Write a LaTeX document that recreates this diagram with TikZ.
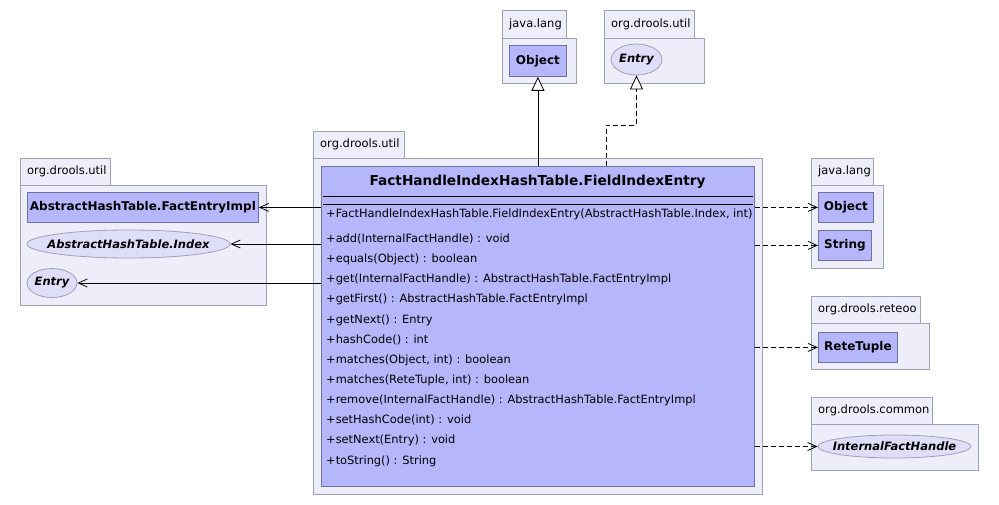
\documentclass[tikz,border=0pt]{standalone}
\usepackage{fontspec}
\setmainfont{DejaVu Sans}
\usetikzlibrary{arrows.meta,shapes.geometric}
\definecolor{pkgfill}{RGB}{238,238,250}
\definecolor{pkgline}{RGB}{160,160,184}
\definecolor{clsfill}{RGB}{182,182,252}
\definecolor{clsline}{RGB}{112,112,160}
\definecolor{ifcfill}{RGB}{222,222,248}
\tikzset{
  pkgpart/.style={draw=pkgline, fill=pkgfill, line width=0.8pt, anchor=north west, inner sep=0pt},
  tabtext/.style={anchor=west, inner sep=0pt, font=\fontsize{11.5}{13}\selectfont},
  clsbox/.style={draw=clsline, fill=clsfill, line width=0.8pt, anchor=north west, inner sep=0pt},
  clsname/.style={inner sep=0pt, font=\fontsize{12}{14}\selectfont\bfseries},
  ifcell/.style={ellipse, draw=pkgline, fill=ifcfill, line width=0.8pt, inner sep=0pt},
  ifcname/.style={inner sep=0pt, font=\fontsize{11.5}{14}\selectfont\bfseries\itshape},
  mtext/.style={anchor=west, inner sep=0pt, font=\fontsize{11.4}{13}\selectfont},
  dep/.style={dashed, dash pattern=on 5pt off 3pt, line width=0.8pt, -{Straight Barb[length=9pt,width=8pt]}},
  assoc/.style={line width=0.8pt, -{Straight Barb[length=9pt,width=8pt]}},
  gen/.style={line width=0.8pt, -{Triangle[open,length=14pt,width=13pt,fill=white]}},
  real/.style={line width=0.8pt, dash pattern=on 5pt off 3pt, -{Triangle[open,length=14pt,width=13pt,fill=white]}}
}
\begin{document}
\begin{tikzpicture}[x=1pt,y=-1pt]
\useasboundingbox[fill=white] (0,0) rectangle (999,505);
% ---------- main package
\node[pkgpart, minimum width=91, minimum height=27] (mtab) at (313,131) {};
\node[tabtext] (mtabt) at (320,144.5) {org.drools.util};
\node[pkgpart, minimum width=449, minimum height=336] (mpkg) at (313,158) {};
\node[clsbox, minimum width=433, minimum height=320] (cls) at (321,166) {};
\node[font=\fontsize{13.7}{16}\selectfont\bfseries, inner sep=0pt] (title) at (537.5,182) {FactHandleIndexHashTable.FieldIndexEntry};
\coordinate (sepA) at (323,196);
\coordinate (sepB) at (323,204);
\draw[line width=0.8pt] (sepA) -- ([xshift=-2pt]sepA -| cls.east);
\draw[line width=0.8pt] (sepB) -- ([xshift=-2pt]sepB -| cls.east);
\node[mtext] (m0) at (326,214) {+FactHandleIndexHashTable.FieldIndexEntry(AbstractHashTable.Index, int)};
\node[mtext] (m1) at (326,239) {+add(InternalFactHandle) : void};
\node[mtext] (m2) at (326,259) {+equals(Object) : boolean};
\node[mtext] (m3) at (326,279) {+get(InternalFactHandle) : AbstractHashTable.FactEntryImpl};
\node[mtext] (m4) at (326,299) {+getFirst() : AbstractHashTable.FactEntryImpl};
\node[mtext] (m5) at (326,320) {+getNext() : Entry};
\node[mtext] (m6) at (326,340) {+hashCode() : int};
\node[mtext] (m7) at (326,360) {+matches(Object, int) : boolean};
\node[mtext] (m8) at (326,380) {+matches(ReteTuple, int) : boolean};
\node[mtext] (m9) at (326,400) {+remove(InternalFactHandle) : AbstractHashTable.FactEntryImpl};
\node[mtext] (m10) at (326,420) {+setHashCode(int) : void};
\node[mtext] (m11) at (326,440) {+setNext(Entry) : void};
\node[mtext] (m12) at (326,461) {+toString() : String};
% ---------- left package org.drools.util
\node[pkgpart, minimum width=90, minimum height=27] (ltab) at (20,158) {};
\node[tabtext] (ltabt) at (27,171.5) {org.drools.util};
\node[pkgpart, minimum width=246, minimum height=120] (lpkg) at (20,185) {};
\node[clsbox, minimum width=231, minimum height=30] (fei) at (27,192) {};
\node[clsname] (feit) at (fei.center) {AbstractHashTable.FactEntryImpl};
\node[ifcell, minimum width=203, minimum height=28] (idx) at (128.5,244) {};
\node[ifcname] (idxt) at (idx.center) {AbstractHashTable.Index};
\node[ifcell, minimum width=50, minimum height=29] (lent) at (52,283) {};
\node[ifcname] (lentt) at (lent.center) {Entry};
% ---------- top java.lang
\node[pkgpart, minimum width=64, minimum height=28] (ttab1) at (502,10) {};
\node[tabtext] (ttab1t) at (509,24) {java.lang};
\node[pkgpart, minimum width=74, minimum height=45] (tpkg1) at (502,38) {};
\node[clsbox, minimum width=57, minimum height=31] (tobj) at (509,45) {};
\node[clsname] (tobjt) at (tobj.center) {Object};
% ---------- top org.drools.util
\node[pkgpart, minimum width=90, minimum height=28] (ttab2) at (604,10) {};
\node[tabtext] (ttab2t) at (611,24) {org.drools.util};
\node[pkgpart, minimum width=100, minimum height=45] (tpkg2) at (604,38) {};
\node[ifcell, minimum width=51, minimum height=31] (tent) at (636.5,59.5) {};
\node[ifcname] (tentt) at (tent.center) {Entry};
% ---------- right java.lang
\node[pkgpart, minimum width=62, minimum height=27] (rtab1) at (811,158) {};
\node[tabtext] (rtab1t) at (818,171.5) {java.lang};
\node[pkgpart, minimum width=72, minimum height=83] (rpkg1) at (811,185) {};
\node[clsbox, minimum width=55, minimum height=30] (robj) at (818,192) {};
\node[clsname] (robjt) at (robj.center) {Object};
\node[clsbox, minimum width=53, minimum height=30] (rstr) at (818,230) {};
\node[clsname] (rstrt) at (rstr.center) {String};
% ---------- org.drools.reteoo
\node[pkgpart, minimum width=109, minimum height=27] (rtab2) at (811,296) {};
\node[tabtext] (rtab2t) at (818,309.5) {org.drools.reteoo};
\node[pkgpart, minimum width=118, minimum height=46] (rpkg2) at (811,323) {};
\node[clsbox, minimum width=79, minimum height=30] (rete) at (818,332) {};
\node[clsname] (retet) at (rete.center) {ReteTuple};
% ---------- org.drools.common
\node[pkgpart, minimum width=121, minimum height=27] (rtab3) at (811,397) {};
\node[tabtext] (rtab3t) at (818,410.5) {org.drools.common};
\node[pkgpart, minimum width=167, minimum height=46] (rpkg3) at (811,424) {};
\node[ifcell, minimum width=153, minimum height=23] (ifh) at (894.5,446.5) {};
\node[ifcname] (ifht) at (ifh.center) {InternalFactHandle};
% ---------- connectors
\draw[gen] (cls.north -| tobj.south) -- (tobj.south);
\coordinate (bend) at (606,125);
\draw[real] (bend |- cls.north) -- (bend) -| (tent.south);
\draw[assoc] (cls.west |- fei.east) -- (fei.east);
\draw[assoc] (cls.west |- idx.east) -- (idx.east);
\draw[assoc] (cls.west |- lent.east) -- (lent.east);
\draw[dep] (cls.east |- robj.west) -- (robj.west);
\draw[dep] (cls.east |- rstr.west) -- (rstr.west);
\draw[dep] (cls.east |- rete.west) -- (rete.west);
\draw[dep] (cls.east |- ifh.west) -- (ifh.west);
\end{tikzpicture}
\end{document}
